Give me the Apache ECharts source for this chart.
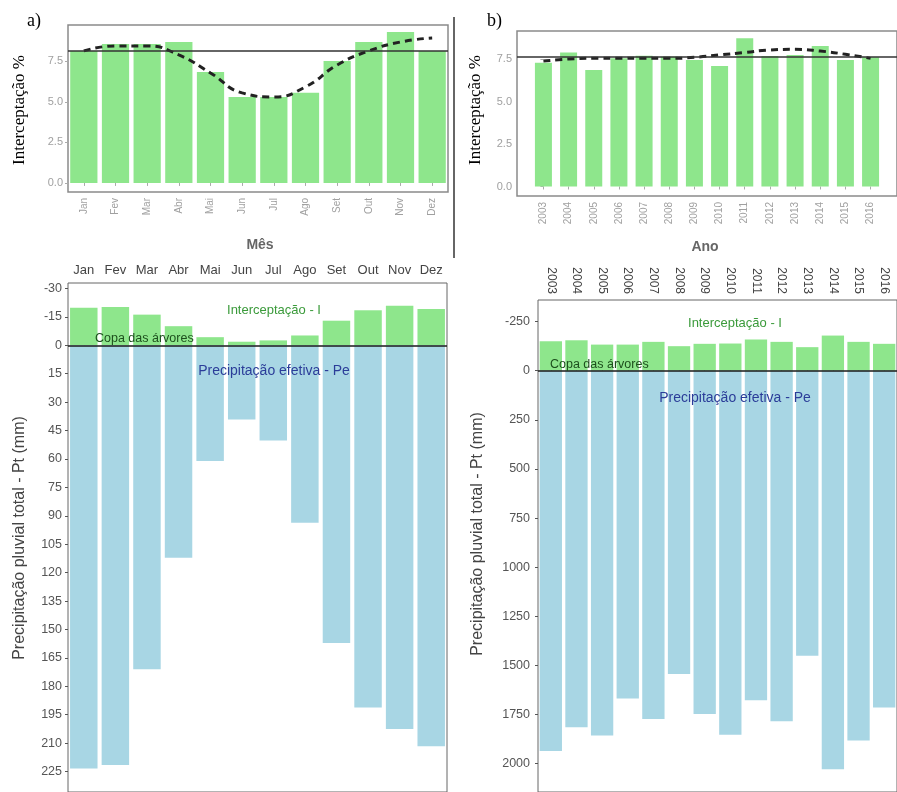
<!DOCTYPE html>
<html><head><meta charset="utf-8">
<script src="https://cdn.jsdelivr.net/npm/echarts@6/dist/echarts.min.js"></script>
<style>html,body{margin:0;padding:0;background:#fff}#c{width:897px;height:792px}</style>
</head><body><div id="c"></div>
<script>
// ---- data ----
const meses = ['Jan','Fev','Mar','Abr','Mai','Jun','Jul','Ago','Set','Out','Nov','Dez'];
const anos = ['2003','2004','2005','2006','2007','2008','2009','2010','2011','2012','2013','2014','2015','2016'];
const intercMes = [81.5,85.8,85.8,87,68.5,53.1,53.1,55.6,75.3,87,93.2,81.5];
const tendMes = [81.5,84.6,84.6,79,67.9,55.6,53.1,59.3,72.8,81.5,87,89.5];
const mediaMes = 81.5;
const intercAno = [72.8,78.9,68.5,75.4,76.9,76.4,74.4,70.9,87.2,76.8,77.4,82.6,74.4,76];
const tendAno = [73.8,75,75.4,75.4,75.4,75.4,76,77.4,78.9,80.3,80.7,79.7,77.8,75.4];
const mediaAno = 76.2;
const percTicks = [0,25,50,75];
const percTickLabels = ['0.0','2.5','5.0','7.5'];
const iMes = [-19.9,-20.2,-16.2,-10.1,-4.3,-1.9,-2.6,-5.2,-13,-18.5,-20.9,-19.2];
const peMes = [223.4,221.6,171,112.2,61,39.2,50.3,93.6,157.2,191.2,202.5,211.7];
const mesTicks = [-30,-15,0,15,30,45,60,75,90,105,120,135,150,165,180,195,210,225];
const iAno = [-150,-155,-133,-133,-147,-125,-137,-138.5,-159,-147,-120,-179,-147,-137];
const peAno = [1935,1815,1856,1668,1772,1543,1747,1853,1677,1784,1450,2028,1882,1714];
const anoTicks = [-250,0,250,500,750,1000,1250,1500,1750,2000];

// ---- styles ----
const GREEN = '#8ee68c';
const BLUE = '#a8d6e4';
const SANS = 'Liberation Sans, Arial, sans-serif';
const SERIF = 'Liberation Serif, Times New Roman, serif';

const chart = echarts.init(document.getElementById('c'), null, {renderer:'canvas'});

const percLabel = v => { const i = percTicks.indexOf(v); return i >= 0 ? percTickLabels[i] : ''; };
const plainLabel = v => String(v);
const meanLine = v => ({
  silent: true, symbol: 'none', label: {show:false},
  lineStyle: {color:'#333', width:1.5, type:'solid'},
  data: [{yAxis: v}]
});
const zeroLine = {
  silent: true, symbol: 'none', label: {show:false},
  lineStyle: {color:'#1a1a1a', width:1.5, type:'solid'},
  data: [{yAxis: 0}]
};

const option = {
  animation: false,
  backgroundColor: '#fff',
  grid: [
    {left:68, top:25, width:380, height:167, show:true, borderColor:'#8a8a8a', borderWidth:1.5, backgroundColor:'#fff'},
    {left:517, top:31, width:388, height:165, show:true, borderColor:'#8a8a8a', borderWidth:1.5, backgroundColor:'#fff'},
    {left:68, top:283, width:379, height:514, show:true, borderColor:'#666', borderWidth:1},
    {left:538, top:300, width:364, height:497, show:true, borderColor:'#666', borderWidth:1}
  ],
  xAxis: [
    {gridIndex:0, type:'category', data:meses, axisLine:{show:false},
     axisTick:{show:true, alignWithLabel:true, length:3, lineStyle:{color:'#aaa'}},
     axisLabel:{rotate:90, color:'#a0a0a0', fontSize:10, fontFamily:SANS, margin:6}},
    {gridIndex:1, type:'value', min:-1.05, max:14.05, splitLine:{show:false}, axisLine:{show:false},
     axisTick:{show:true, length:3, customValues:[0,1,2,3,4,5,6,7,8,9,10,11,12,13], lineStyle:{color:'#aaa'}},
     axisLabel:{rotate:90, color:'#a0a0a0', fontSize:10, fontFamily:SANS, margin:6,
       customValues:[0,1,2,3,4,5,6,7,8,9,10,11,12,13], formatter: v => anos[Math.round(v)]}},
    {gridIndex:2, type:'category', data:meses, position:'top', axisLine:{show:false},
     axisTick:{show:true, alignWithLabel:true, length:3, lineStyle:{color:'#555'}},
     axisLabel:{color:'#444', fontSize:13, fontFamily:SANS, margin:6}},
    {gridIndex:3, type:'category', data:anos, position:'top', axisLine:{show:false},
     axisTick:{show:true, alignWithLabel:true, length:3, lineStyle:{color:'#555'}},
     axisLabel:{rotate:-90, color:'#444', fontSize:12, fontFamily:SANS, margin:6}}
  ],
  yAxis: [
    {gridIndex:0, type:'value', min:-5.6, max:97.5, splitLine:{show:false}, axisLine:{show:false},
     axisTick:{show:true, length:3, customValues:percTicks, lineStyle:{color:'#aaa'}},
     axisLabel:{customValues:percTicks, formatter:percLabel, color:'#a0a0a0', fontSize:11, fontFamily:SANS, margin:5}},
    {gridIndex:1, type:'value', min:-5.6, max:91.5, splitLine:{show:false}, axisLine:{show:false},
     axisTick:{show:true, length:3, customValues:percTicks, lineStyle:{color:'#aaa'}},
     axisLabel:{customValues:percTicks, formatter:percLabel, color:'#a0a0a0', fontSize:11, fontFamily:SANS, margin:5}},
    {gridIndex:2, type:'value', inverse:true, min:-32.9, max:235.8, splitLine:{show:false}, axisLine:{show:false},
     axisTick:{show:true, length:3, customValues:mesTicks, lineStyle:{color:'#555'}},
     axisLabel:{customValues:mesTicks, formatter:plainLabel, color:'#555', fontSize:12.5, fontFamily:SANS, margin:6}},
    {gridIndex:3, type:'value', inverse:true, min:-360, max:2144, splitLine:{show:false}, axisLine:{show:false},
     axisTick:{show:true, length:3, customValues:anoTicks, lineStyle:{color:'#555'}},
     axisLabel:{customValues:anoTicks, formatter:plainLabel, color:'#555', fontSize:12.5, fontFamily:SANS, margin:8}}
  ],
  series: [
    {type:'bar', xAxisIndex:0, yAxisIndex:0, data:intercMes, barCategoryGap:'14%',
     itemStyle:{color:GREEN}, markLine: meanLine(mediaMes)},
    {type:'line', xAxisIndex:0, yAxisIndex:0, data:tendMes, smooth:true, symbol:'none',
     lineStyle:{color:'#222', width:3, type:[7,5]}},
    {type:'bar', xAxisIndex:1, yAxisIndex:1, data:intercAno.map((v,i)=>[i,v]), barWidth:17,
     itemStyle:{color:GREEN}, markLine: meanLine(mediaAno)},
    {type:'line', xAxisIndex:1, yAxisIndex:1, data:tendAno.map((v,i)=>[i,v]), smooth:true, symbol:'none',
     lineStyle:{color:'#222', width:3, type:[7,5]}},
    {type:'bar', xAxisIndex:2, yAxisIndex:2, data:iMes, barCategoryGap:'13%', barGap:'-100%',
     itemStyle:{color:GREEN}},
    {type:'bar', xAxisIndex:2, yAxisIndex:2, data:peMes, barCategoryGap:'13%', barGap:'-100%',
     itemStyle:{color:BLUE}, markLine: zeroLine},
    {type:'bar', xAxisIndex:3, yAxisIndex:3, data:iAno, barCategoryGap:'13%', barGap:'-100%',
     itemStyle:{color:GREEN}},
    {type:'bar', xAxisIndex:3, yAxisIndex:3, data:peAno, barCategoryGap:'13%', barGap:'-100%',
     itemStyle:{color:BLUE}, markLine: zeroLine}
  ],
  graphic: [
    {type:'line', shape:{x1:454, y1:17, x2:454, y2:258}, style:{stroke:'#666', lineWidth:2}, z:100},
    {type:'text', x:27, y:21, style:{text:'a)', font:'18px '+SERIF, fill:'#000', textVerticalAlign:'middle'}},
    {type:'text', x:487, y:21, style:{text:'b)', font:'18px '+SERIF, fill:'#000', textVerticalAlign:'middle'}},
    {type:'text', x:20, y:110, rotation:Math.PI/2, style:{text:'Interceptação %', font:'17px '+SERIF, fill:'#000', textAlign:'center', textVerticalAlign:'middle'}},
    {type:'text', x:476, y:110, rotation:Math.PI/2, style:{text:'Interceptação %', font:'17px '+SERIF, fill:'#000', textAlign:'center', textVerticalAlign:'middle'}},
    {type:'text', x:260, y:245, style:{text:'Mês', font:'bold 14px '+SANS, fill:'#666', textAlign:'center', textVerticalAlign:'middle'}},
    {type:'text', x:705, y:247, style:{text:'Ano', font:'bold 14px '+SANS, fill:'#666', textAlign:'center', textVerticalAlign:'middle'}},
    {type:'text', x:20, y:538, rotation:Math.PI/2, style:{text:'Precipitação pluvial total - Pt (mm)', font:'16px '+SANS, fill:'#444', textAlign:'center', textVerticalAlign:'middle'}},
    {type:'text', x:478, y:534, rotation:Math.PI/2, style:{text:'Precipitação pluvial total - Pt (mm)', font:'16px '+SANS, fill:'#444', textAlign:'center', textVerticalAlign:'middle'}},
    {type:'text', x:274, y:310, z:100, style:{text:'Interceptação - I', font:'13px '+SANS, fill:'#3a9a3a', textAlign:'center', textVerticalAlign:'middle'}},
    {type:'text', x:95, y:339, z:100, style:{text:'Copa das árvores', font:'12.5px '+SANS, fill:'#1d4f1d', textAlign:'left', textVerticalAlign:'middle'}},
    {type:'text', x:274, y:371, z:100, style:{text:'Precipitação efetiva - Pe', font:'14px '+SANS, fill:'#2b3d99', textAlign:'center', textVerticalAlign:'middle'}},
    {type:'text', x:735, y:323, z:100, style:{text:'Interceptação - I', font:'13px '+SANS, fill:'#3a9a3a', textAlign:'center', textVerticalAlign:'middle'}},
    {type:'text', x:550, y:365, z:100, style:{text:'Copa das árvores', font:'12.5px '+SANS, fill:'#1d4f1d', textAlign:'left', textVerticalAlign:'middle'}},
    {type:'text', x:735, y:398, z:100, style:{text:'Precipitação efetiva - Pe', font:'14px '+SANS, fill:'#2b3d99', textAlign:'center', textVerticalAlign:'middle'}}
  ]
};
chart.setOption(option);
</script>
</body></html>
